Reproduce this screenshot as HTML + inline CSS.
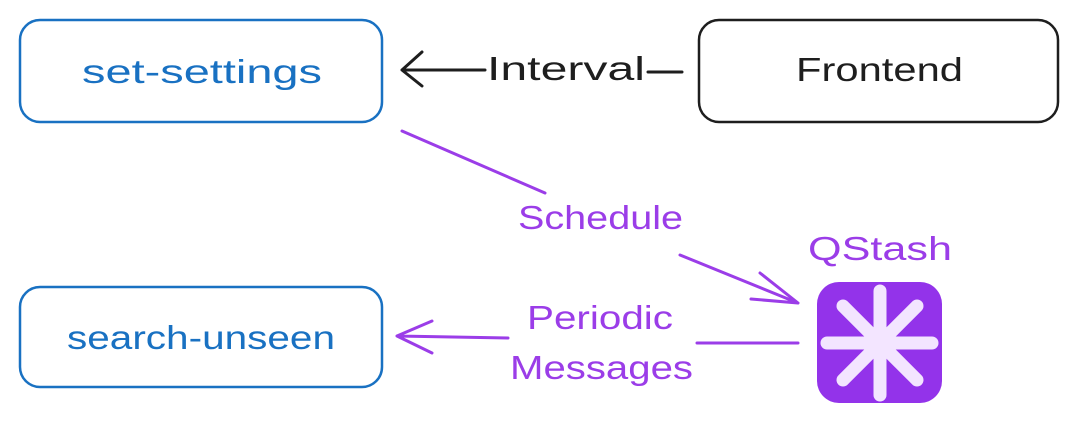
<!DOCTYPE html>
<html><head><meta charset="utf-8"><style>
html,body{margin:0;padding:0;background:#fff;width:1079px;height:424px;overflow:hidden}
svg text{font-family:"Liberation Sans",sans-serif}
</style></head><body>
<svg width="1079" height="424" viewBox="0 0 1079 424" xmlns="http://www.w3.org/2000/svg">
<g fill="none" stroke-linecap="round" stroke-linejoin="round">
<rect x="20" y="20" width="362" height="102" rx="20" stroke="#1971c2" stroke-width="2.5"/>
<rect x="20" y="287" width="362" height="100" rx="20" stroke="#1971c2" stroke-width="2.5"/>
<rect x="699" y="20" width="359" height="102" rx="20" stroke="#1e1e1e" stroke-width="2.5"/>
<path d="M682 72 L648 72 M485 70 L402 70 M422 52 L402 70 L422 86" stroke="#1e1e1e" stroke-width="3"/>
<path d="M402 131 L545 193 M680 255 L798 303 M760 273 L798 303 L751 299" stroke="#9b3de8" stroke-width="3"/>
<path d="M798 343 L697 343 M508 338 L397 336 M432 321 L397 336 L432 353" stroke="#9b3de8" stroke-width="3"/>
</g>
<g font-size="33" lengthAdjust="spacingAndGlyphs">
<text x="82" y="83" textLength="240" lengthAdjust="spacingAndGlyphs" fill="#1971c2">set-settings</text>
<text x="67" y="349" textLength="268" lengthAdjust="spacingAndGlyphs" fill="#1971c2">search-unseen</text>
<text x="796" y="81" textLength="167" lengthAdjust="spacingAndGlyphs" fill="#1e1e1e">Frontend</text>
<text x="487" y="80" textLength="158" lengthAdjust="spacingAndGlyphs" fill="#1e1e1e">Interval</text>
<text x="518" y="229" textLength="165" lengthAdjust="spacingAndGlyphs" fill="#9b3de8">Schedule</text>
<text x="527" y="329" textLength="146" lengthAdjust="spacingAndGlyphs" fill="#9b3de8">Periodic</text>
<text x="510" y="379" textLength="183" lengthAdjust="spacingAndGlyphs" fill="#9b3de8">Messages</text>
<text x="808" y="260" textLength="144" lengthAdjust="spacingAndGlyphs" fill="#9b3de8">QStash</text>
</g>
<rect x="817" y="282" width="125" height="121" rx="22" fill="#9333ea"/>
<g stroke="#f3e5ff" stroke-width="13" stroke-linecap="round">
<line x1="880" y1="291" x2="880" y2="395"/>
<line x1="827" y1="343" x2="932" y2="343"/>
<line x1="843" y1="306" x2="917" y2="380"/>
<line x1="917" y1="306" x2="843" y2="380"/>
</g>
</svg>
</body></html>
